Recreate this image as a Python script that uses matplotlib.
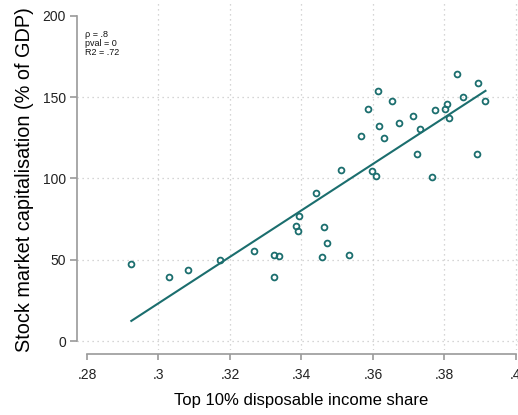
import numpy as np
import matplotlib.pyplot as plt

# top 10% disposable income share vs stock market capitalisation (% of GDP)
top10_share = [0.2924, 0.3030, 0.3083, 0.3171, 0.3267, 0.3323, 0.3338, 0.3323,
               0.3440, 0.3394, 0.3384, 0.3389, 0.3463, 0.3472, 0.3458, 0.3534,
               0.3510, 0.3598, 0.3608, 0.3764, 0.3566, 0.3722, 0.3890, 0.3587,
               0.3613, 0.3654, 0.3617, 0.3630, 0.3672, 0.3712, 0.3733, 0.3773,
               0.3803, 0.3808, 0.3813, 0.3851, 0.3836, 0.3895, 0.3915]
market_cap = [47.6, 39.4, 43.5, 49.8, 55.4, 53.1, 52.3, 39.6,
              91.3, 76.7, 70.8, 67.7, 70.0, 60.1, 51.9, 53.1,
              105.4, 104.8, 101.5, 100.7, 126.0, 115.3, 115.3, 143.0,
              153.8, 147.9, 132.5, 124.9, 134.2, 138.3, 130.6, 142.2,
              142.8, 146.0, 137.4, 150.0, 164.3, 159.0, 147.9]

xticks = [0.28, 0.30, 0.32, 0.34, 0.36, 0.38, 0.40]
xtick_labels = ['.28', '.3', '.32', '.34', '.36', '.38', '.4']
yticks = [0, 50, 100, 150, 200]
stats_text = 'ρ = .8\npval = 0\nR2 = .72'

teal = '#1b6e6e'
plt.rcParams['font.family'] = ['Liberation Sans', 'DejaVu Sans']

x = np.array(top10_share)
y = np.array(market_cap)
slope, intercept = np.polyfit(x, y, 1)
xfit = np.array([x.min(), x.max()])

fig = plt.figure(figsize=(5.18, 4.15), dpi=100)
ax = fig.add_axes([77 / 518, 65 / 415, 441 / 518, 350 / 415])

ax.plot(x, y, 'o', mfc='none', mec=teal, ms=4.2, mew=1.3, zorder=3)
ax.plot(xfit, intercept + slope * xfit, color=teal, lw=1.5, zorder=2)

ax.set_xlim(0.2772, 0.4006)
ax.set_ylim(-5.5, 209.8)
ax.set_xticks(xticks)
ax.set_xticklabels(xtick_labels)
ax.set_yticks(yticks)

for s in ['top', 'right']:
    ax.spines[s].set_visible(False)
ax.spines['left'].set_bounds(0, 200)
ax.spines['bottom'].set_bounds(0.28, 0.40)
ax.spines['bottom'].set_position(('outward', 3))
for s in ['left', 'bottom']:
    ax.spines[s].set_color('#9a9a9a')
    ax.spines[s].set_linewidth(1.2)

ax.tick_params(axis='y', length=5, width=1.2, color='#9a9a9a', pad=3,
               labelsize=10, labelcolor='#222222')
ax.tick_params(axis='x', length=4, width=1.2, color='#9a9a9a', pad=6,
               labelsize=10, labelcolor='#222222')

# dotted grid, Stata style: none at the outer ticks
ax.grid(True, ls=(0, (1, 3)), color='#c8c8c8', lw=0.9)
ax.set_axisbelow(True)
ax.yaxis.get_gridlines()[-1].set_visible(False)
ax.xaxis.get_gridlines()[0].set_visible(False)

ax.text(0.018, 0.913, stats_text, transform=ax.transAxes, va='top', ha='left',
        fontsize=6.5, linespacing=0.95, color='#111111')

fig.text(25 / 518, 1 - 180 / 415, 'Stock market capitalisation (% of GDP)',
         rotation=90, ha='center', va='center', fontsize=14.3)
fig.text(301 / 518, 1 - 400 / 415, 'Top 10% disposable income share',
         ha='center', va='center', fontsize=12)

fig.savefig('out.png', dpi=100)
